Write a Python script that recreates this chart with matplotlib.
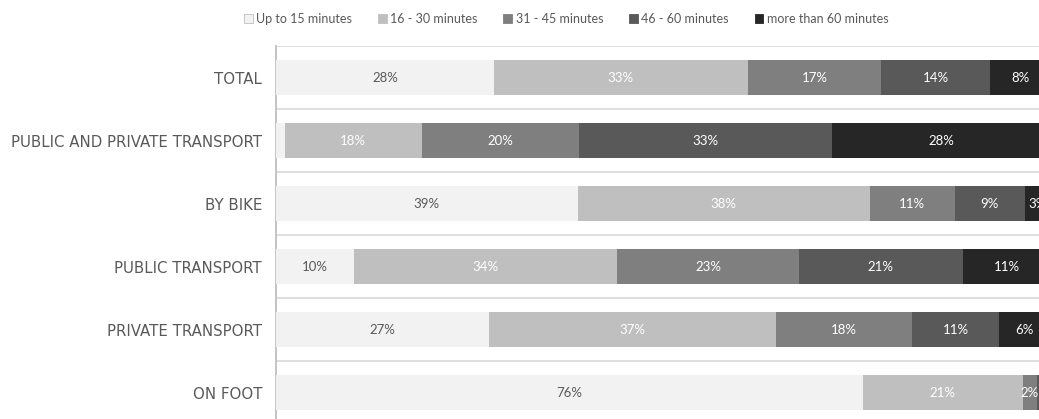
import numpy as np
import matplotlib.pyplot as plt
from matplotlib.patches import Patch

plt.rcParams['font.family'] = ['Lato', 'DejaVu Sans']

categories = ["TOTAL", "PUBLIC AND PRIVATE TRANSPORT", "BY BIKE",
              "PUBLIC TRANSPORT", "PRIVATE TRANSPORT", "ON FOOT"]
series_names = ["Up to 15 minutes", "16 - 30 minutes", "31 - 45 minutes",
                "46 - 60 minutes", "more than 60 minutes"]
up_to_15 = [28.1, 1.1, 38.9, 10.0, 27.4, 75.6]
min_16_30 = [32.7, 17.7, 37.6, 34.0, 37.0, 20.6]
min_31_45 = [17.2, 20.2, 11.0, 23.4, 17.6, 1.9]
min_46_60 = [14.0, 32.6, 9.0, 21.1, 11.2, 1.4]
over_60 = [8.0, 28.4, 3.4, 11.4, 6.4, 0.5]

colors = ["#f2f2f2", "#bfbfbf", "#7f7f7f", "#595959", "#262626"]
text_colors = ["#595959", "white", "white", "white", "white"]

fig = plt.figure(figsize=(10.39, 4.19), dpi=100)
ax = fig.add_axes([276 / 1039, -5 / 419, 776 / 1039, 378 / 419])

data = [up_to_15, min_16_30, min_31_45, min_46_60, over_60]
y = np.arange(len(categories))
left = np.zeros(len(categories))
for vals, name, col, tcol in zip(data, series_names, colors, text_colors):
    vals = np.array(vals)
    ax.barh(y, vals, left=left, height=0.55, color=col, label=name, zorder=3)
    for yi, (l, v) in enumerate(zip(left, vals)):
        if v >= 1.5:
            ax.text(l + v / 2, yi, f"{int(round(v))}%", ha="center", va="center",
                    color=tcol, fontsize=9.5, zorder=4)
    left = left + vals

ax.set_xlim(0, 100)
ax.set_ylim(len(categories) - 0.5, -0.5)
ax.set_yticks(y)
ax.set_yticklabels(categories, fontsize=10.8, color="#595959",
                   family=["DejaVu Sans"])
ax.tick_params(axis="y", length=0, pad=10)
ax.set_yticks(np.arange(-0.5, len(categories)), minor=True)
ax.tick_params(axis="y", which="minor", length=0)
ax.grid(axis="y", which="minor", color="#d9d9d9", linewidth=1.2, zorder=0)
ax.set_xticks([])
for s in ["top", "right", "bottom"]:
    ax.spines[s].set_visible(False)
ax.spines["left"].set_color("#bfbfbf")
ax.spines["left"].set_linewidth(1.3)

handles = [Patch(facecolor=c, edgecolor="#bfbfbf" if i == 0 else c, linewidth=0.6)
           for i, c in enumerate(colors)]
fig.legend(handles, series_names, loc="center", bbox_to_anchor=(0.545, 0.955),
           ncol=5, frameon=False, fontsize=9, labelcolor="#595959",
           handlelength=0.7, handleheight=0.7, handletextpad=0.3, columnspacing=2.05)

fig.savefig("out.png", dpi=100)
